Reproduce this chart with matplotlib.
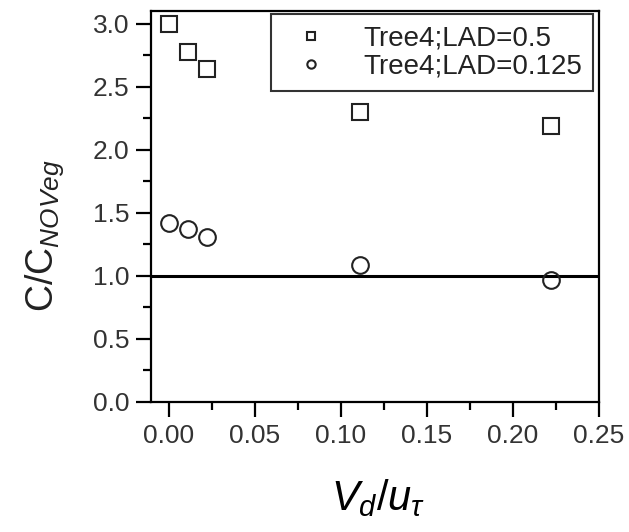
import numpy as np
import matplotlib
matplotlib.use('Agg')
import matplotlib.pyplot as plt
from matplotlib.ticker import MultipleLocator, FormatStrFormatter

plt.rcParams['font.family'] = 'Liberation Sans'
plt.rcParams['mathtext.fontset'] = 'custom'
plt.rcParams['mathtext.it'] = 'Liberation Sans:italic'
plt.rcParams['mathtext.rm'] = 'Liberation Sans'

# data
vd_u = [0.0, 0.011, 0.022, 0.111, 0.222]
lad_05 = [3.00, 2.78, 2.64, 2.30, 2.19]
lad_0125 = [1.42, 1.37, 1.31, 1.09, 0.97]

fig = plt.figure(figsize=(6.29, 5.32), dpi=100)
ax = fig.add_axes([0.240, 0.2444, 0.712, 0.7346])

ax.axhline(1.0, color='black', lw=2.2, zorder=1)
ax.plot(vd_u, lad_05, 's', ms=11.5, mfc='white', mec='#222222', mew=1.5,
        label='Tree4;LAD=0.5', zorder=3)
ax.plot(vd_u, lad_0125, 'o', ms=12, mfc='none', mec='#222222', mew=1.5,
        label='Tree4;LAD=0.125', zorder=3)

ax.set_xlim(-0.0105, 0.25)
ax.set_ylim(0, 3.1)
ax.xaxis.set_major_locator(MultipleLocator(0.05))
ax.xaxis.set_minor_locator(MultipleLocator(0.025))
ax.yaxis.set_major_locator(MultipleLocator(0.5))
ax.yaxis.set_minor_locator(MultipleLocator(0.25))
ax.xaxis.set_major_formatter(FormatStrFormatter('%.2f'))
ax.yaxis.set_major_formatter(FormatStrFormatter('%.1f'))

for s in ax.spines.values():
    s.set_linewidth(1.6)
ax.tick_params(which='major', direction='out', length=10.5, width=1.6,
               labelsize=19, pad=5, colors='black')
ax.tick_params(which='minor', direction='out', length=6, width=1.6)
ax.tick_params(axis='both', which='both', top=False, right=False)
for lbl in ax.get_xticklabels() + ax.get_yticklabels():
    lbl.set_color('#333333')

fig.text(0.601, 0.063, r'$V_d/u_\tau$', fontsize=30, ha='center', va='center')
fig.text(0.0715, 0.558, r'$\mathrm{C/C}_{NOVeg}$', fontsize=27,
         rotation=90, ha='center', va='center', color='#222222')

leg = ax.legend(loc='upper right', fontsize=20, markerscale=0.5,
                frameon=True, fancybox=False, edgecolor='black',
                borderpad=0.42, handlelength=2.0, handletextpad=0.88,
                labelspacing=0.05, borderaxespad=0,
                bbox_to_anchor=(0.988, 0.992))
leg.get_frame().set_linewidth(1.5)
for t in leg.get_texts():
    t.set_color('#222222')

fig.savefig('out.png', dpi=100)
